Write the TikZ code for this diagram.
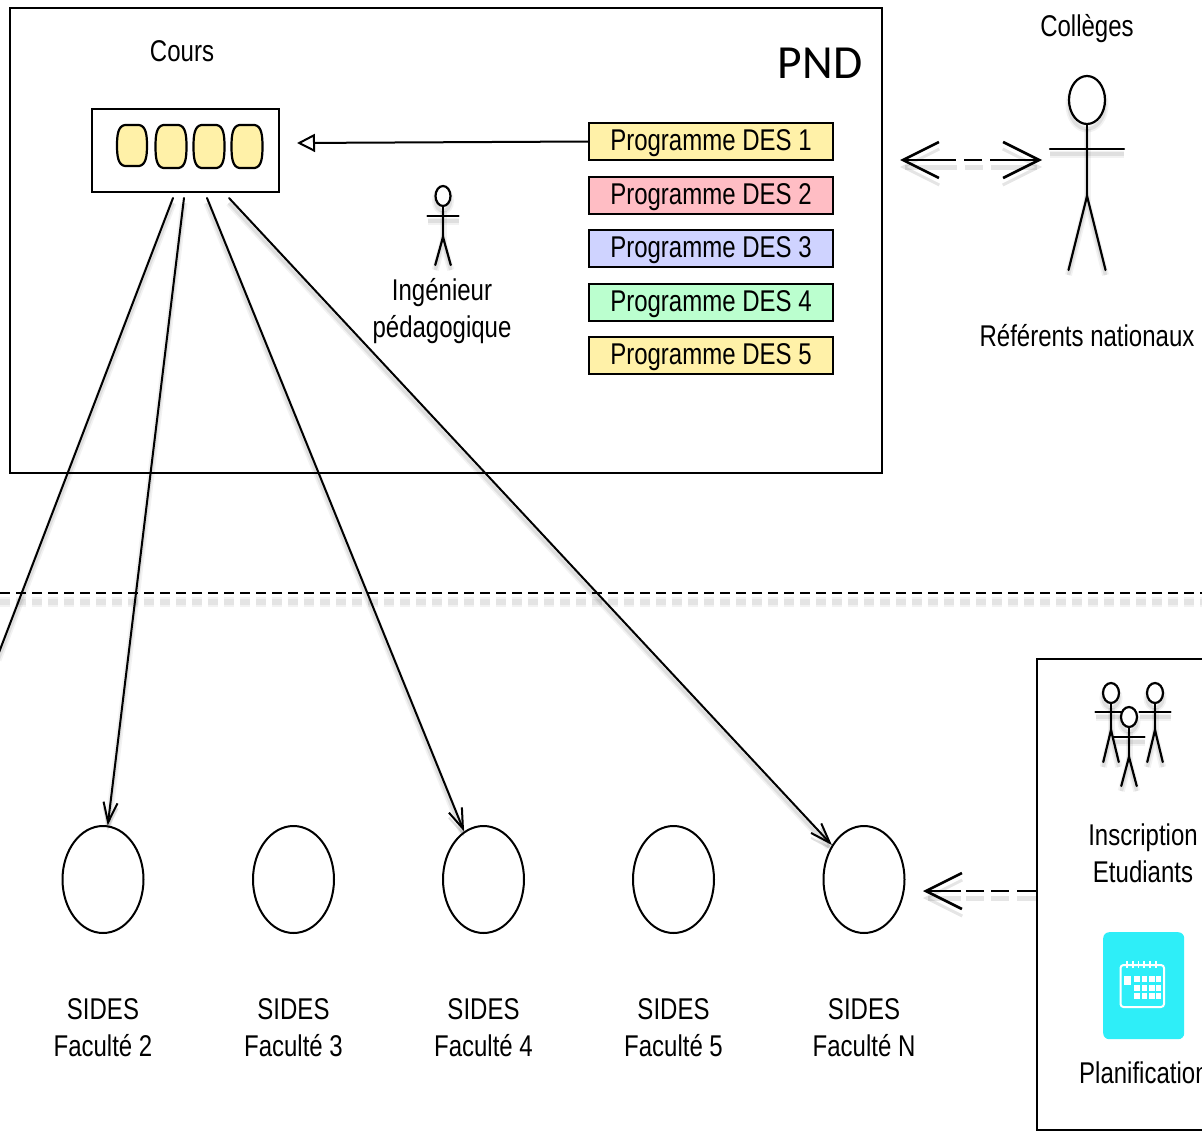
\documentclass[tikz,border=0pt]{standalone}
\usepackage{fontspec}
\setmainfont[FakeStretch=0.8]{Liberation Sans}
\newfontfamily\pndfont{Carlito}
\usetikzlibrary{arrows.meta,shapes.geometric}
\definecolor{yel}{HTML}{FFF1A8}
\definecolor{pnk}{HTML}{FFBDC4}
\definecolor{blu}{HTML}{CFD3FF}
\definecolor{grn}{HTML}{BBFFCF}
\definecolor{cyn}{HTML}{2EEEF8}
\tikzset{
  x=1pt,y=-1pt,
  soft/.style={preaction={draw=black,draw opacity=.05,line width=7pt,transform canvas={yshift=-5pt}},
               preaction={draw=black,draw opacity=.08,line width=3.5pt,transform canvas={yshift=-5pt}}},
  softdash/.style={preaction={draw=black,draw opacity=.05,line width=#1*1.6,dash pattern=on 10pt off 6pt,transform canvas={yshift=-9pt}},
               preaction={draw=black,draw opacity=.06,line width=#1,dash pattern=on 10pt off 6pt,transform canvas={yshift=-9pt}}},
  softarrow/.style 2 args={preaction={draw=black,draw opacity=.10,line width=5pt,dash pattern=#1,#2,transform canvas={yshift=-7pt}}},
  lbl/.style={font=\fontsize{30}{37}\selectfont,align=center,inner sep=0pt,text=black},
  frame/.style={draw=black,line width=2pt,fill=white,inner sep=0pt},
  progbox/.style={draw=black,line width=2pt,minimum width=244pt,minimum height=37pt,inner sep=0pt,text height=22pt,text depth=4pt,font=\fontsize{30}{30}\selectfont},
  site/.style={ellipse,draw=black,line width=2pt,minimum width=81pt,minimum height=107pt,inner sep=0pt,fill=white},
  flow/.style={draw=black,line width=2pt,-{Straight Barb[length=20pt,width=14pt,line width=2pt]},line cap=round},
  plainline/.style={draw=black,line width=2pt,line cap=round},
  bigarrow/.style={draw=black,line width=2.6pt},
  stick/.style={draw=black,line width=2.2pt,line cap=round},
  calstroke/.style={draw=white,line width=2pt},
  calcell/.style={fill=white},
}
\newcommand{\barrel}[4]{% x y w h
  \draw[draw=black,line width=2.2pt,fill=yel] (#1+8,#2) -- (#1+#3-8,#2)
   .. controls (#1+#3-1,#2+1) and (#1+#3,#2+10) .. (#1+#3,#2+#4/2)
   .. controls (#1+#3,#2+#4-10) and (#1+#3-1,#2+#4-1) .. (#1+#3-8,#2+#4)
   -- (#1+8,#2+#4)
   .. controls (#1+1,#2+#4-1) and (#1,#2+#4-10) .. (#1,#2+#4/2)
   .. controls (#1,#2+10) and (#1+1,#2+1) .. (#1+8,#2) -- cycle;}
\newcommand{\actor}[8]{% cx headcy rx ry armY armHalf hipY legY
  \draw[stick,soft] (#1,#2+#4) -- (#1,#7);
  \draw[stick,soft] (#1-#6,#5) -- (#1+#6,#5);
  \draw[stick,soft] (#1-#6*0.5,#8) -- (#1,#7) -- (#1+#6*0.5,#8);
  \draw[stick,soft,fill=white] (#1,#2) ellipse [x radius=#3,y radius=#4];}
\begin{document}
\begin{tikzpicture}
\useasboundingbox (0,0) rectangle (1202,1130);
% PND frame
\node[frame,anchor=north west,minimum width=872pt,minimum height=465pt] (pnd) at (9,7) {};
\node[font=\pndfont\fontsize{47.5}{47.5}\selectfont,inner sep=0pt] (pndlabel) at (820,63) {PND};
% Cours
\node[lbl] (courslabel) at (182,51) {Cours};
\node[frame,anchor=north west,minimum width=187pt,minimum height=83pt] (cours) at (91,108) {};
\barrel{117}{125}{30}{41}
\barrel{155.5}{125}{31}{43}
\barrel{193.5}{125}{31}{43}
\barrel{231.5}{125}{31}{43}
% Programmes
\node[progbox,fill=yel] (p1) at (711,141.5) {Programme DES 1};
\node[progbox,fill=pnk] (p2) at (711,195) {Programme DES 2};
\node[progbox,fill=blu] (p3) at (711,248) {Programme DES 3};
\node[progbox,fill=grn] (p4) at (711,302) {Programme DES 4};
\node[progbox,fill=yel] (p5) at (711,355.5) {Programme DES 5};
\coordinate (ctip) at (297,143);
\draw[draw=black,line width=2pt,-{Triangle[open,length=18pt,width=18pt,line width=2pt,fill=white]}] (p1.west) -- (ctip);
% Ingenieur
\actor{443}{196}{7.5}{10}{216}{15.5}{237}{265}
\node[lbl] (ing) at (442,311.5) {Ingénieur\\pédagogique};
% Referents
\node[lbl] (colleges) at (1087,29) {Collèges};
\actor{1087}{100}{18}{24}{149}{37}{196}{270}
\node[lbl] (ref) at (1087,336) {Référents nationaux};
\coordinate (dl) at (900,160);
\coordinate (dr) at (1042,160);
\draw[bigarrow,softarrow={on 52pt off 8pt on 18pt off 8pt on 60pt}{{Straight Barb[length=36pt,width=36pt,line width=3pt]}-{Straight Barb[length=36pt,width=36pt,line width=3pt]}},dash pattern=on 52pt off 8pt on 18pt off 8pt on 60pt,{Straight Barb[length=36pt,width=36pt,line width=2.6pt]}-{Straight Barb[length=36pt,width=36pt,line width=2.6pt]}] (dl) -- (dr);
% separator
\coordinate (sl) at (0,593);
\coordinate (sr) at (1202,593);
\draw[draw=black,line width=2.2pt,dash pattern=on 10pt off 6pt,softdash=6pt] (sl) -- (sr);
% sites
\node[site] (f2) at (103,879.5) {};
\node[site] (f3) at (293.5,879.5) {};
\node[site] (f4) at (483.5,879.5) {};
\node[site] (f5) at (673.5,879.5) {};
\node[site] (fn) at (864,879.5) {};
\node[lbl] (l2) at (103,1027.5) {SIDES\\Faculté 2};
\node[lbl] (l3) at (293.5,1027.5) {SIDES\\Faculté 3};
\node[lbl] (l4) at (483.5,1027.5) {SIDES\\Faculté 4};
\node[lbl] (l5) at (673.5,1027.5) {SIDES\\Faculté 5};
\node[lbl] (ln) at (864,1027.5) {SIDES\\Faculté N};
% connectors from Cours
\coordinate (c1) at (173,198);
\coordinate (c2) at (184,198);
\coordinate (c3) at (207,198);
\coordinate (c4) at (229,198);
\coordinate (off) at (-2,655);
\draw[plainline,soft] (c1) -- (off);
\draw[flow,soft] (c2) -- (f2.85);
\draw[flow,soft] (c3) -- (f4.112);
\draw[flow,soft] (c4) -- (fn.133);
% right panel
\node[frame,anchor=north west,minimum width=200pt,minimum height=471pt] (panel) at (1036,657.5) {};
\actor{1111}{693}{8}{10}{712}{15.5}{730}{762}
\actor{1155}{693}{8}{10}{712}{15.5}{730}{762}
\actor{1129}{717}{8}{10}{737}{15.5}{757}{786}
\node[lbl] (insc) at (1143,853.5) {Inscription\\Etudiants};
\coordinate (bt) at (923,891);
\draw[bigarrow,softarrow={on 19pt off 8pt on 18pt off 7pt on 18pt off 5pt on 60pt}{-{Straight Barb[length=36pt,width=36pt,line width=3pt]}},dash pattern=on 19pt off 8pt on 18pt off 7pt on 18pt off 5pt on 60pt,-{Straight Barb[length=36pt,width=36pt,line width=2.6pt]}] (panel.west |- bt) -- (bt);
% calendar
\node[fill=cyn,rounded corners=6pt,anchor=north west,minimum width=81pt,minimum height=107pt,inner sep=0pt] (cal) at (1103,932) {};
\draw[calstroke,rounded corners=3pt] (1120.5,965) rectangle (1164,1007);
\foreach \rx in {1127,1133,1138.5,1144,1150,1156}{\draw[calstroke,line width=1.8pt] (\rx,961) -- (\rx,968);}
\fill[calcell] (1124,976) rectangle (1131,985);
\foreach \cx in {1137,1144.5,1152,1158.5}{\foreach \cy in {979,988,996}{\fill[calcell] (\cx-2.9,\cy-2.9) rectangle (\cx+2.9,\cy+2.9);}}
\node[lbl,anchor=west] (plan) at (1079,1073) {Planification};
\end{tikzpicture}
\end{document}
